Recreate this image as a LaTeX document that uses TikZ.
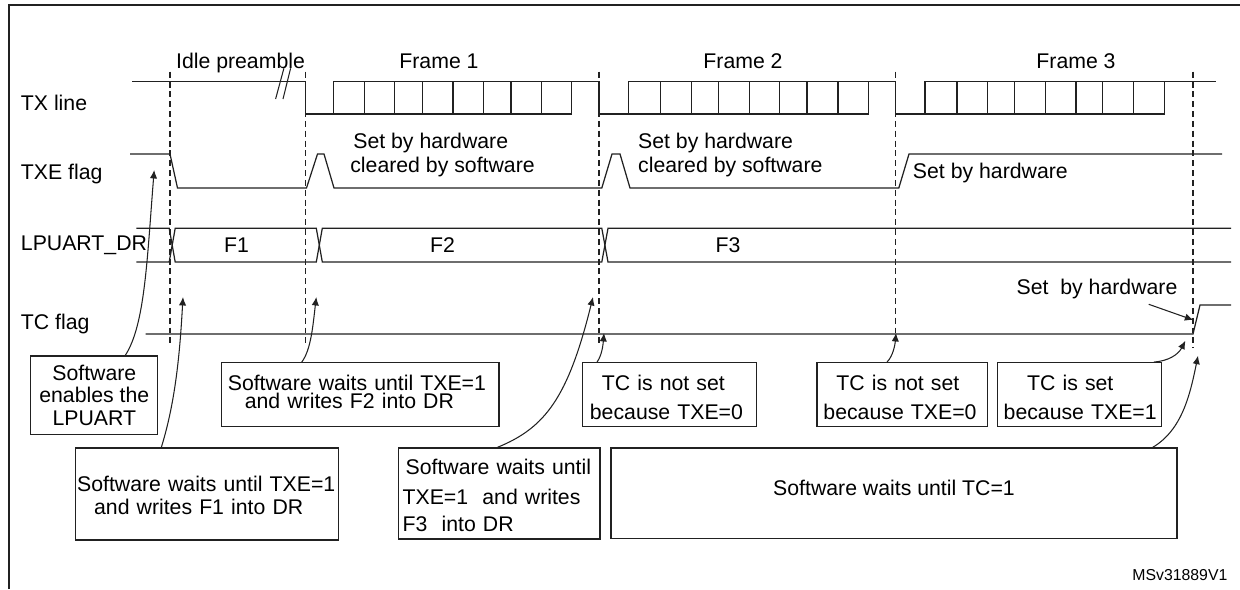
\documentclass[tikz,border=0pt]{standalone}
\usepackage{fontspec}
\setmainfont{Liberation Sans}
\usepackage{tikz}
\usetikzlibrary{arrows.meta}
\definecolor{inkgray}{rgb}{0.13, 0.13, 0.13}
\tikzset{
	sig/.style={inkgray,line width=0.7pt,line join=miter},
	guide/.style={inkgray,line width=0.7pt,dash pattern=on 3.4pt off 2.2pt},
	txt/.style={inner sep=0pt,text=black,font=\fontsize{12.1}{13}\selectfont},
	notebox/.style={draw=inkgray,line width=0.7pt,inner xsep=0pt,inner ysep=0pt,align=left,text=black,font=\fontsize{12.1}{13}\selectfont},
	notearrow/.style={inkgray,-{Latex[length=4.8pt,width=4.2pt]},line width=0.6pt}
}
\begin{document}
\begin{tikzpicture}[x=0.02cm,y=-0.02cm]
		\useasboundingbox (0,0) rectangle (1240,589);
		
		\draw [inkgray,line width=1.2pt] (8.7,589) -- (8.7,5) -- (1240,5);
		
		\node[txt,anchor=west] (txlabel) at (20.6,103) {TX line};
		\node[txt,anchor=west] (txelabel) at (20.6,173.5) {TXE flag};
		\node[txt,anchor=west] (drlabel) at (20.6,245) {LPUART\_DR};
		\node[txt,anchor=west] (tclabel) at (20.6,323.5) {TC flag};
		
		\node[txt] (idle) at (240.5,63) {Idle preamble};
		\node[txt] (frameA) at (439,61) {Frame 1};
		\node[txt] (frameB) at (743,61) {Frame 2};
		\node[txt] (frameC) at (1076,61) {Frame 3};
		
		\draw [guide] (170,71.7) -- (170,346.7);
		\draw [guide] (305.6,71.7) -- (305.6,346.7);
		\draw [guide] (599,71.7) -- (599,346.7);
		\draw [guide] (895.6,71.7) -- (895.6,334);
		\draw [guide] (1193,71.7) -- (1193,348);
		
		\draw [sig] (132,81.7) -- (305.6,81.7) -- (305.6,114) -- (571.4,114) -- (571.4,81.7) -- (333.3,81.7) -- (333.3,114);
		\draw [sig] (364.6,81.7) -- (364.6,114) (394.6,81.7) -- (394.6,114) (422.3,81.7) -- (422.3,114) (453,81.7) -- (453,114) (483.6,81.7) -- (483.6,114) (510.9,81.7) -- (510.9,114) (541.7,81.7) -- (541.7,114);
		\draw [sig] (571.4,81.7) -- (599,81.7) -- (599,114) -- (868.7,114) -- (868.7,81.7) -- (628.7,81.7) -- (628.7,114);
		\draw [sig] (660.7,81.7) -- (660.7,114) (691.6,81.7) -- (691.6,114) (718.5,81.7) -- (718.5,114) (749.3,81.7) -- (749.3,114) (779.7,81.7) -- (779.7,114) (807,81.7) -- (807,114) (837.9,81.7) -- (837.9,114);
		\draw [sig] (868.7,81.7) -- (895.6,81.7) -- (895.6,114) -- (1164.5,114) -- (1164.5,81.7) -- (924.9,81.7) -- (924.9,114);
		\draw [sig] (956.9,81.7) -- (956.9,114) (987.3,81.7) -- (987.3,114) (1014.2,81.7) -- (1014.2,114) (1045.5,81.7) -- (1045.5,114) (1075.9,81.7) -- (1075.9,114) (1102.8,81.7) -- (1102.8,114) (1133.6,81.7) -- (1133.6,114);
		\draw [sig] (1164.5,81.7) -- (1216,81.7);
		\draw [sig,line width=0.6pt] (275.6,99) -- (283.9,68.3) (283,99) -- (290.6,68.3);
		
		\draw [sig] (130,154) -- (170,154) -- (177.5,188) -- (306.5,188) -- (317.5,154) -- (324,154) -- (334,188) -- (601.8,188) -- (612,154) -- (620,154) -- (630,188) -- (898.8,188) -- (909,154) -- (1222,154);
		\node[txt,anchor=west] (hwA) at (353,143) {Set by hardware};
		\node[txt,anchor=west] (swA) at (350,167) {cleared by software};
		\node[txt,anchor=west] (hwB) at (637.8,143) {Set by hardware};
		\node[txt,anchor=west] (swB) at (637.8,167) {cleared by software};
		\node[txt,anchor=west] (hwC) at (912.6,173) {Set by hardware};
		
		\draw [sig] (136.4,228.3) -- (169.2,228.3) -- (175.2,262) -- (316.3,262) -- (322.3,228.3) -- (601.8,228.3) -- (608,262) -- (1231,262);
		\draw [sig] (136.4,262) -- (169.2,262) -- (175.2,228.3) -- (316.3,228.3) -- (322.3,262) -- (601.8,262) -- (608,228.3) -- (1231,228.3);
		\node[txt] (dataA) at (236.5,245) {F1};
		\node[txt] (dataB) at (442.5,245) {F2};
		\node[txt] (dataC) at (728,245) {F3};
		
		\draw [sig] (145.5,334) -- (1193,334) -- (1200,305) -- (1231,305);
		\node[txt] (hwD) at (1097,289) {Set~ by hardware};
		
		\node[notebox,align=center,minimum width=2.54cm,minimum height=1.574cm] (swen) at (94.3,395.3) {Software\\enables the\\LPUART};
		\node[notebox,text width=5.276cm,minimum height=1.84cm,text depth=11.5pt] (waitA) at (207,494) {\hspace*{0.04cm}Software waits until TXE=1\\\hspace*{0.38cm}and writes F1 into DR};
		\node[notebox,text width=5.544cm,minimum height=1.28cm,text depth=13.8pt] (waitB) at (360.4,394.7) {\hspace*{0.12cm}Software waits until TXE=1\\[-2.6pt]\hspace*{0.46cm}and writes F2 into DR};
		\node[notebox,text width=4.028cm,minimum height=1.82cm,text depth=30pt] (waitC) at (499.3,493.5) {\hspace*{0.14cm}Software waits until\\[4.1pt]\hspace*{0.08cm}TXE=1~ and writes\\[2pt]\hspace*{0.08cm}F3~ into DR};
		\node[notebox,text width=3.488cm,minimum height=1.28cm,text depth=13.6pt] (notsetA) at (669.6,394.7) {\hspace*{0.39cm}TC is not set\\[3.4pt]\hspace*{0.15cm}because TXE=0};
		\node[notebox,text width=3.414cm,minimum height=1.28cm,text depth=13.6pt] (notsetB) at (902.3,394.7) {\hspace*{0.39cm}TC is not set\\[3.4pt]\hspace*{0.13cm}because TXE=0};
		\node[notebox,text width=3.274cm,minimum height=1.28cm,text depth=13.6pt] (isset) at (1079.5,394.7) {\hspace*{0.59cm}TC is set\\[3.4pt]\hspace*{0.12cm}because TXE=1};
		\node[notebox,align=center,minimum width=11.32cm,minimum height=1.806cm,text depth=5.7pt] (waitTC) at (894,493.2) {Software waits until TC=1};
		
		\node[inner sep=0pt,anchor=east,font=\fontsize{9}{11}\selectfont] (docref) at (1227.7,575) {MSv31889V1};
		
		\coordinate (tipen) at (154.2,170);
		\coordinate (tipA) at (183,297);
		\coordinate (tipB) at (316.3,297);
		\coordinate (tipC) at (593,297);
		\coordinate (tipD) at (604,333);
		\coordinate (tipE) at (896,333);
		\coordinate (tipF) at (1185.4,340.7);
		\coordinate (tipG) at (1198,355.7);
		\coordinate (tipH) at (1193.3,320);
		
		\draw [notearrow] ([xshift=0.62cm]swen.north) .. controls (145,325) and (147,260) .. (tipen);
		\draw [notearrow] ([xshift=-0.914cm]waitA.north) .. controls (176,400) and (180,350) .. (tipA);
		\draw [notearrow] ([xshift=-1.174cm]waitB.north) .. controls (311,350) and (313,325) .. (tipB);
		\draw [notearrow] ([xshift=-0.04cm]waitC.north) .. controls (545,428) and (568,398) .. (tipC);
		\draw [notearrow] ([xshift=-1.452cm]notsetA.north) .. controls (602,355) and (603,345) .. (tipD);
		\draw [notearrow] ([xshift=-0.306cm]notsetB.north) .. controls (893,356) and (895,345) .. (tipE);
		\draw [notearrow] ([xshift=1.486cm]isset.north) .. controls (1168,361) and (1178,355) .. (tipF);
		\draw [notearrow] ([xshift=5.172cm]waitTC.north) .. controls (1182,430) and (1190,395) .. (tipG);
		\draw [notearrow] ([xshift=1.034cm,yshift=-0.1cm]hwD.south) -- (tipH);
		\end{tikzpicture}
\end{document}
